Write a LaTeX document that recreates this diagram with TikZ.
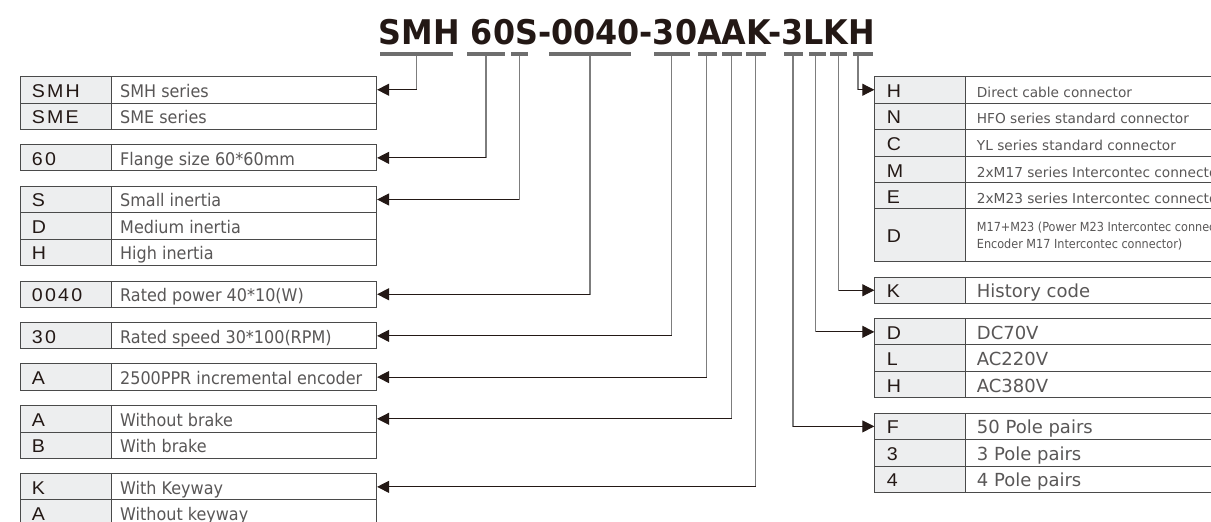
\documentclass[tikz,border=0pt]{standalone}
\usepackage{fontspec}
\setmainfont{DejaVu Sans}
\newfontfamily\titlefont[FakeStretch=0.935]{DejaVu Sans}
\newfontfamily\codefont[FakeStretch=1.06,LetterSpace=12]{Liberation Sans}
\newfontfamily\leftfont[FakeStretch=0.92]{DejaVu Sans}
\newfontfamily\narrowfont[FakeStretch=0.9]{DejaVu Sans}
\usetikzlibrary{arrows.meta}
\definecolor{ink}{HTML}{231815}
\definecolor{txtgray}{HTML}{595757}
\definecolor{rulec}{HTML}{4A4A4A}
\definecolor{codefill}{HTML}{EDEEEF}
\definecolor{barc}{HTML}{6E6E6E}
\definecolor{vlinec}{HTML}{7D7D7D}
\tikzset{
  cellbox/.style={draw=rulec, line width=1.1pt, rectangle, inner sep=0pt, anchor=north west},
  codebox/.style={cellbox, fill=codefill},
  descbox/.style={cellbox, fill=white},
  codetxt/.style={inner sep=0pt, anchor=base west, text=ink, font=\codefont\fontsize{18.5}{20}\selectfont},
  ldesc/.style={inner sep=0pt, anchor=base west, text=txtgray, font=\leftfont\fontsize{17.4}{19}\selectfont},
  rdesc/.style={inner sep=0pt, anchor=base west, text=txtgray, font=\fontsize{18}{20}\selectfont},
  cdesc/.style={inner sep=0pt, anchor=base west, text=txtgray, font=\fontsize{13.7}{16}\selectfont},
  bar/.style={rectangle, fill=barc, draw=none, inner sep=0pt, minimum height=4pt},
  vseg/.style={draw=vlinec, line width=1.1pt},
  hseg/.style={draw=ink, line width=1pt, -{Triangle[length=12pt,width=12pt,color=ink]}}
}
\newcommand\Lrow[5]{%
  \node[codebox, minimum width=91pt, minimum height=#3pt] (#1c) at (20,#2) {};
  \node[descbox, minimum width=265pt, minimum height=#3pt] (#1d) at (111,#2) {};
  \node[codetxt] (#1ct) at ([xshift=11.7pt,yshift=-7.3pt]#1c.west) {#4};
  \node[ldesc] (#1dt) at ([xshift=9pt,yshift=-7.3pt]#1d.west) {#5};}
\newcommand\Rrow[6]{%
  \node[codebox, minimum width=90.7pt, minimum height=#3pt] (#1c) at (874.3,#2) {};
  \node[descbox, minimum width=300pt, minimum height=#3pt] (#1d) at (965,#2) {};
  \node[codetxt] (#1ct) at ([xshift=12.4pt,yshift=-7.3pt]#1c.west) {#4};
  \node[#6] (#1dt) at ([xshift=11.7pt,yshift=-7.3pt]#1d.west) {#5};}
\newcommand\Lead[2]{%
  \draw[vseg] (#1) -- ([yshift=-0.5pt]#1 |- #2);
  \draw[hseg] (#1 |- #2) -- (#2);}
\begin{document}
\begin{tikzpicture}[x=1pt,y=-1pt]
\useasboundingbox (0,0) rectangle (1211,522);
\clip (0,0) rectangle (1211,522);
\fill[white] (0,0) rectangle (1211,522);
% title
\node[inner sep=0pt, anchor=base west, text=ink, font=\titlefont\bfseries\fontsize{34}{36}\selectfont] (title) at (378.5,44) {SMH 60S-0040-30AAK-3LKH};
% underline bars
\node[bar, minimum width=73pt] (bSMH) at (416.5,54.3) {};
\node[bar, minimum width=38pt] (b60) at (486,54.3) {};
\node[bar, minimum width=17pt] (bS) at (519.5,54.3) {};
\node[bar, minimum width=82pt] (b0040) at (590,54.3) {};
\node[bar, minimum width=36pt] (b30) at (672,54.3) {};
\node[bar, minimum width=19pt] (bA1) at (707.5,54.3) {};
\node[bar, minimum width=20pt] (bA2) at (732,54.3) {};
\node[bar, minimum width=20pt] (bK1) at (756,54.3) {};
\node[bar, minimum width=19pt] (b3) at (793.5,54.3) {};
\node[bar, minimum width=17pt] (bL) at (817.5,54.3) {};
\node[bar, minimum width=17pt] (bK2) at (838.5,54.3) {};
\node[bar, minimum width=20pt] (bH) at (863,54.3) {};
% line starts
\coordinate (vSMH) at (416.7,56);
\coordinate (v60) at (486,56);
\coordinate (vS) at (519.3,56);
\coordinate (v0040) at (590,56);
\coordinate (v30) at (671.7,56);
\coordinate (vA1) at (706.7,56);
\coordinate (vA2) at (731.7,56);
\coordinate (vK1) at (755.7,56);
\coordinate (v3) at (793,56);
\coordinate (vL) at (815.5,56);
\coordinate (vK2) at (838.5,56);
\coordinate (vH) at (858,56);
% left tables
\Lrow{smh}{75.7}{27}{SMH}{SMH series}
\Lrow{sme}{102.7}{26.5}{SME}{SME series}
\Lrow{fl}{144.3}{26}{60}{Flange size 60*60mm}
\Lrow{is}{185.7}{26.5}{S}{Small inertia}
\Lrow{id}{212.2}{26.3}{D}{Medium inertia}
\Lrow{ih}{238.5}{26.5}{H}{High inertia}
\Lrow{pw}{280.7}{26}{0040}{Rated power 40*10(W)}
\Lrow{sp}{322.3}{26}{30}{Rated speed 30*100(RPM)}
\Lrow{en}{363.3}{26.5}{A}{2500PPR incremental encoder}
\Lrow{ba}{405}{26.5}{A}{Without brake}
\Lrow{bb}{431.5}{26.8}{B}{With brake}
\Lrow{ka}{473.3}{26}{K}{With Keyway}
\Lrow{kb}{499.3}{26.5}{A}{Without keyway}
% right tables
\Rrow{ch}{75.7}{27}{H}{Direct cable connector}{cdesc}
\Rrow{cn}{102.7}{26.6}{N}{HFO series standard connector}{cdesc}
\Rrow{cc}{129.3}{26.7}{C}{YL series standard connector}{cdesc}
\Rrow{cm}{156}{26.3}{M}{2xM17 series Intercontec connector}{cdesc}
\Rrow{ce}{182.3}{26}{E}{2xM23 series Intercontec connector}{cdesc}
\node[codebox, minimum width=90.7pt, minimum height=52.7pt] (cdc) at (874.3,208.3) {};
\node[descbox, minimum width=300pt, minimum height=52.7pt] (cdd) at (965,208.3) {};
\node[codetxt] (cdct) at ([xshift=12.4pt,yshift=-7pt]cdc.west) {D};
\node[inner sep=0pt, anchor=base west, align=left, text=txtgray, font=\narrowfont\fontsize{12.5}{16.5}\selectfont] (cddt) at (976.7,248) {M17+M23 (Power M23 Intercontec connector,\\Encoder M17 Intercontec connector)};
\Rrow{hk}{276.7}{26}{K}{History code}{rdesc}
\Rrow{vd}{318.3}{26}{D}{DC70V}{rdesc}
\Rrow{vl}{344.3}{26.7}{L}{AC220V}{rdesc}
\Rrow{vh}{371}{26.3}{H}{AC380V}{rdesc}
\Rrow{pf}{412.7}{26.3}{F}{50 Pole pairs}{rdesc}
\Rrow{pt}{439}{26.7}{3}{3 Pole pairs}{rdesc}
\Rrow{pq}{465.7}{26}{4}{4 Pole pairs}{rdesc}
% leaders
\Lead{vSMH}{smhd.east}
\Lead{v60}{fld.east}
\Lead{vS}{isd.east}
\Lead{v0040}{pwd.east}
\Lead{v30}{spd.east}
\Lead{vA1}{end.east}
\Lead{vA2}{bad.east}
\Lead{vK1}{kad.east}
\Lead{vH}{chc.west}
\Lead{vK2}{hkc.west}
\Lead{vL}{vdc.west}
\Lead{v3}{pfc.west}
\end{tikzpicture}
\end{document}
